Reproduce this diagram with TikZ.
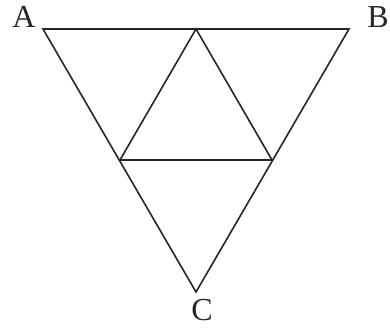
\documentclass[tikz,border=0pt]{standalone}
\usepackage{fontspec}
\setmainfont{Liberation Serif}
\begin{document}
\begin{tikzpicture}[x=1pt,y=-1pt,
  edge/.style={line width=1.6pt,draw=black!85,line join=miter},
  lbl/.style={font=\fontsize{32}{32}\selectfont,inner sep=0pt,text=black!85}]
\useasboundingbox (0,0) rectangle (390,327);
\coordinate (A) at (43,29);
\coordinate (B) at (349,29);
\coordinate (C) at (196,292);
\coordinate (M) at (196,29);
\coordinate (L) at (120,160);
\coordinate (R) at (272,160);
\draw[edge] (A) -- (B) -- (C) -- cycle;
\draw[edge] (M) -- (L) -- (R) -- cycle;
\node[lbl] (la) at (24,17) {A};
\node[lbl] (lb) at (378,17) {B};
\node[lbl] (lc) at (202,310) {C};
\end{tikzpicture}
\end{document}
